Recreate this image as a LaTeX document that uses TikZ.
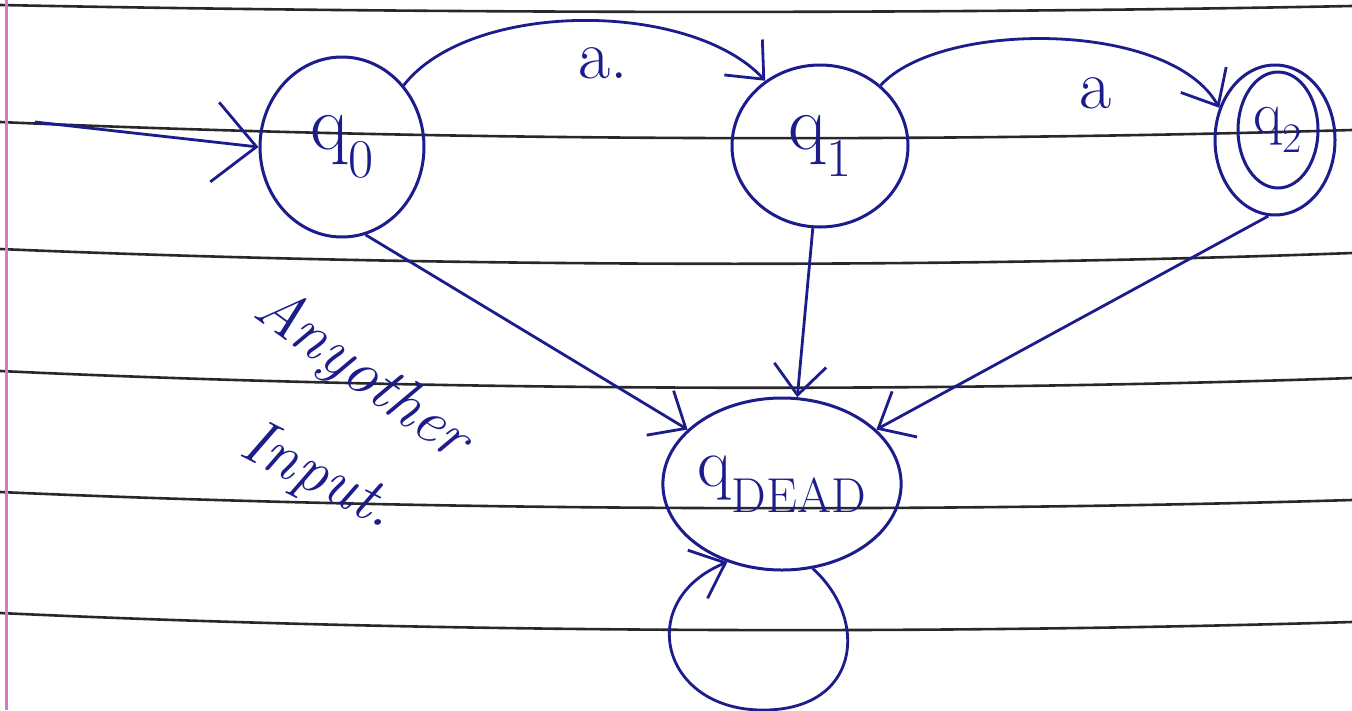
\documentclass[tikz,border=0pt]{standalone}
\usepackage{fontspec}
\usetikzlibrary{shapes.geometric,arrows.meta}
\definecolor{ink}{RGB}{28,28,140}
\definecolor{rulec}{RGB}{40,40,40}
\definecolor{margin}{RGB}{215,120,200}
\tikzset{
  state/.style={ellipse,draw=ink,line width=3pt,inner sep=0pt,text=ink,font=\fontsize{78}{80}\selectfont},
  edge/.style={draw=ink,line width=2.8pt,-{Straight Barb[length=30pt,width=52pt,line width=2.8pt]}},
  rule/.style={draw=rulec,line width=2.6pt},
  elabel/.style={text=ink,font=\fontsize{70}{72}\selectfont},
  note/.style={text=ink,font=\itshape\fontsize{64}{66}\selectfont}
}
\begin{document}
\begin{tikzpicture}[x=1pt,y=-1pt]
\useasboundingbox (0,0) rectangle (1352,710);
\fill[white] (0,0) rectangle (1352,710);
% notebook rules
\draw[rule] (0,5) .. controls (450,14) and (950,14) .. (1352,6);
\draw[rule] (0,122) .. controls (450,142) and (950,142) .. (1352,130);
\draw[rule] (0,249) .. controls (450,268) and (950,268) .. (1352,253);
\draw[rule] (0,371) .. controls (450,392) and (950,392) .. (1352,378);
\draw[rule] (0,492) .. controls (450,512) and (950,512) .. (1352,500);
\draw[rule] (0,613) .. controls (450,634) and (950,634) .. (1352,622);
\draw[draw=margin,line width=3pt] (6,0) -- (6,710);
% states
\node[state,minimum width=164pt,minimum height=180pt] (q0) at (342,147) {q\textsubscript{0}};
\node[state,minimum width=176pt,minimum height=162pt] (q1) at (820,146) {q\textsubscript{1}};
\node[state,minimum width=120pt,minimum height=150pt] (q2) at (1275,140) {};
\node[state,minimum width=80pt,minimum height=116pt,font=\fontsize{60}{62}\selectfont] (q2in) at (1278,130) {q\textsubscript{2}};
\node[state,minimum width=228pt,minimum height=172pt,font=\fontsize{70}{72}\selectfont] (dead) at (782,484) {q\textsubscript{DEAD}};
% start arrow
\coordinate (start) at (35,122);
\draw[edge,-{Straight Barb[length=42pt,width=80pt,line width=2.8pt]}] (start) -- (q0.west);
% transitions
\draw[edge] (q0.45) .. controls (470,0) and (690,0) .. (q1.130) node[pos=0.55,below=22pt,elabel] {a.};
\draw[edge] (q1.45) .. controls (940,20) and (1170,20) .. (q2.150) node[pos=0.6,below=30pt,elabel] {a};
\draw[edge] (q0.285) -- (dead.150);
\draw[edge] (q1.265) -- (dead.80);
\draw[edge] (q2.265) -- (dead.30);
\draw[edge] (dead.-70) .. controls (870,620) and (860,712) .. (760,710) .. controls (660,708) and (635,600) .. (dead.-125);
% note
\node[note,rotate=-36] (n1) at (362,375) {Anyother};
\node[note,rotate=-27] (n2) at (318,478) {Input.};
\end{tikzpicture}
\end{document}
